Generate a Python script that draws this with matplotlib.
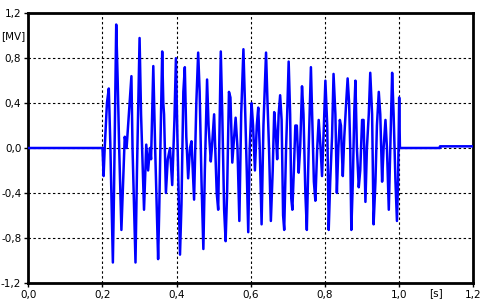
import matplotlib
matplotlib.use("Agg")
import matplotlib.pyplot as plt

# time [s] of the signal's turning points
time_s = [
    0.0, 0.2, 0.203, 0.206, 0.212, 0.217, 0.221, 0.228, 0.231, 0.237, 0.241, 0.245,
    0.251, 0.255, 0.260, 0.265, 0.270, 0.278, 0.281, 0.289, 0.293, 0.300, 0.304,
    0.312, 0.318, 0.323, 0.328, 0.331, 0.337, 0.342, 0.350, 0.353, 0.361, 0.364,
    0.366, 0.371, 0.376, 0.382, 0.388, 0.394, 0.398, 0.402, 0.409, 0.413, 0.418,
    0.422, 0.426, 0.431, 0.436, 0.440, 0.447, 0.453, 0.458, 0.462, 0.467, 0.472,
    0.476, 0.482, 0.486, 0.492, 0.495, 0.501, 0.504, 0.508, 0.512, 0.519, 0.523,
    0.528, 0.532, 0.536, 0.541, 0.545, 0.550, 0.555, 0.559, 0.564, 0.569, 0.574,
    0.580, 0.585, 0.589, 0.593, 0.597, 0.602, 0.606, 0.611, 0.616, 0.620, 0.624,
    0.629, 0.634, 0.641, 0.645, 0.649, 0.654, 0.659, 0.663, 0.668, 0.671, 0.675,
    0.679, 0.683, 0.687, 0.690, 0.695, 0.698, 0.702, 0.706, 0.709, 0.712, 0.716,
    0.720, 0.724, 0.729, 0.733, 0.738, 0.742, 0.747, 0.751, 0.756, 0.762, 0.766,
    0.770, 0.774, 0.779, 0.783, 0.788, 0.792, 0.797, 0.801, 0.806, 0.810, 0.814,
    0.819, 0.823, 0.828, 0.832, 0.836, 0.840, 0.843, 0.845, 0.848, 0.852, 0.857,
    0.861, 0.865, 0.868, 0.871, 0.875, 0.879, 0.882, 0.886, 0.891, 0.895, 0.900,
    0.904, 0.909, 0.913, 0.918, 0.922, 0.927, 0.931, 0.936, 0.940, 0.945, 0.949,
    0.954, 0.958, 0.963, 0.967, 0.972, 0.976, 0.981, 0.985, 0.990, 0.994, 0.997,
    1.0, 1.002, 1.110, 1.110, 1.2,
]
# voltage [MV]
voltage_mv = [
    0.0, 0.0, -0.25, 0.0, 0.40, 0.53, 0.05, -1.02, -0.40, 1.10, 0.60, 0.0,
    -0.73, -0.35, 0.10, 0.0, 0.25, 0.64, 0.0, -1.02, -0.20, 0.98, 0.30,
    -0.55, 0.03, -0.20, 0.0, -0.10, 0.73, 0.0, -0.99, -0.55, 0.86, 0.40,
    0.30, -0.40, -0.10, 0.0, -0.33, 0.25, 0.80, 0.10, -0.95, -0.50, 0.50,
    0.72, 0.10, -0.27, 0.0, 0.06, -0.46, 0.40, 0.85, 0.50, -0.30, -0.90,
    -0.20, 0.61, 0.20, -0.12, 0.0, 0.30, 0.0, -0.40, -0.55, 0.86, 0.30,
    -0.55, -0.83, -0.40, 0.50, 0.45, -0.13, 0.10, 0.27, 0.0, -0.65, 0.30,
    0.88, 0.30, -0.20, -0.75, 0.0, 0.40, 0.20, -0.20, 0.20, 0.36, 0.0,
    -0.68, 0.20, 0.85, 0.40, 0.0, -0.65, -0.20, 0.32, 0.10, -0.10, 0.30,
    0.47, 0.25, -0.60, -0.73, 0.0, 0.30, 0.77, 0.30, -0.45, -0.55, -0.20,
    0.20, 0.20, -0.22, 0.0, 0.55, 0.30, -0.40, -0.73, 0.0, 0.72, 0.20,
    -0.30, -0.47, 0.0, 0.25, 0.0, -0.25, 0.20, 0.60, 0.20, -0.73, -0.30,
    0.10, 0.66, 0.30, -0.40, 0.0, 0.25, 0.20, 0.0, -0.25, 0.10, 0.40,
    0.62, 0.40, 0.0, -0.73, -0.30, 0.33, 0.60, 0.0, -0.35, -0.20, 0.25,
    0.25, -0.48, 0.0, 0.30, 0.67, 0.30, -0.68, -0.30, 0.20, 0.50, 0.30,
    -0.30, 0.0, 0.25, 0.0, -0.55, 0.0, 0.67, 0.30, -0.30, -0.65, -0.30,
    0.45, 0.0, 0.0, 0.015, 0.015,
]

x_ticks = [0.0, 0.2, 0.4, 0.6, 0.8, 1.0, 1.2]
x_tick_labels = ["0,0", "0,2", "0,4", "0,6", "0,8", "1,0", "1,2"]
y_ticks = [-1.2, -0.8, -0.4, 0.0, 0.4, 0.8, 1.2]
y_tick_labels = ["-1,2", "-0,8", "-0,4", "0,0", "0,4", "0,8", "1,2"]
x_unit = "[s]"
y_unit = "[MV]"

plt.rcParams["font.family"] = ["DejaVu Sans"]

fig = plt.figure(figsize=(4.84, 3.01), dpi=100)
ax = fig.add_axes([0.0585, 0.0608, 0.9195, 0.895])

ax.plot(time_s, voltage_mv, color="#0000ff", linewidth=1.8, zorder=3)

ax.set_xlim(0.0, 1.2)
ax.set_ylim(-1.2, 1.2)
ax.set_xticks(x_ticks)
ax.set_xticklabels(x_tick_labels)
ax.set_yticks(y_ticks)
ax.set_yticklabels(y_tick_labels)
ax.tick_params(axis="both", direction="out", length=3, width=1, labelsize=7.5,
               pad=2, colors="black")

ax.grid(True, color="black", linestyle=(0, (2.2, 2.2)), linewidth=0.8)
for s in ax.spines.values():
    s.set_linewidth(2)
    s.set_color("black")

ax.annotate(y_unit, xy=(0, 1.0), xycoords=("axes fraction", "data"),
            xytext=(-2, 0), textcoords="offset points",
            ha="right", va="center", fontsize=7.5)
ax.annotate(x_unit, xy=(1.1, 0), xycoords=("data", "axes fraction"),
            xytext=(0, -4), textcoords="offset points",
            ha="center", va="top", fontsize=7.5)

fig.savefig("out.png", dpi=100)
